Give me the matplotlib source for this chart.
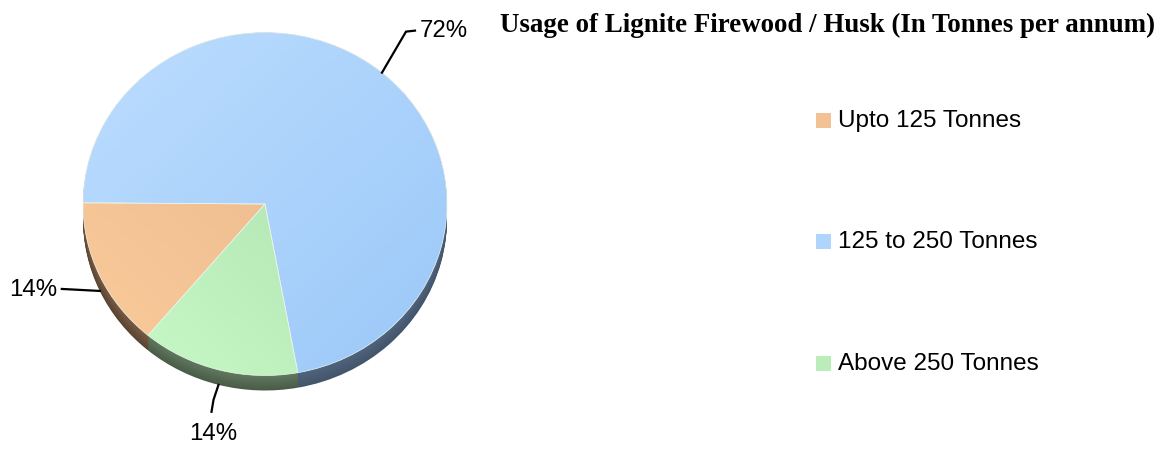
import numpy as np
import matplotlib.pyplot as plt
from matplotlib.colors import to_rgb
from matplotlib.patches import Rectangle
from matplotlib.lines import Line2D

plt.rcParams['font.family'] = ['Liberation Sans', 'DejaVu Sans']

categories = ["Upto 125 Tonnes", "125 to 250 Tonnes", "Above 250 Tonnes"]
shares = [14, 72, 14]
title = "Usage of Lignite Firewood / Husk (In Tonnes per annum)"

# slice colours: light / dark end of the top gradient, side shading
top_light = ["#FDCB9B", "#BCDDFF", "#CAFCCA"]
top_dark = ["#E1B48A", "#9BC8F8", "#A5D6A5"]
grad_dir = [(1, 1), (1, -1), (1, 1)]
side_top = ["#7A5D44", "#50647D", "#627A60"]
side_bot = ["#5A4332", "#43556B", "#4A5C47"]

W, H = 1163, 450
cx, cy, rx, ry, depth = 265, 204, 182, 171.5, 15
start = 230


def mix(c0, c1, t):
    a, b = np.array(to_rgb(c0)), np.array(to_rgb(c1))
    return tuple(a * (1 - t) + b * t)


def fig_xy(x, y):
    return x / W, 1 - y / H


fig = plt.figure(figsize=(W / 100, H / 100), dpi=100)
ax = fig.add_axes([0, 0, 1, 1])

# side of the pie: stacked copies going up from the bottom
n = 18
for k in range(n):
    f = k / (n - 1)
    off = -depth / ry * (1 - f)
    cols = [mix(side_bot[i], side_top[i], f) for i in range(3)]
    ax.pie(shares, startangle=start, counterclock=False, colors=cols,
           center=(0, off), wedgeprops=dict(linewidth=0, zorder=0.1))

# top surface
wedges, _ = ax.pie(shares, startangle=start, counterclock=False,
                   colors=top_light,
                   wedgeprops=dict(linewidth=0.5, edgecolor="#EEF6EE", zorder=2))

gx, gy = np.meshgrid(np.linspace(-1, 1, 300), np.linspace(-1, 1, 300))
for i, w in enumerate(wedges):
    dx, dy = grad_dir[i]
    t = (gx * dx + gy * dy)
    t = (t - t.min()) / (t.max() - t.min())
    c0, c1 = np.array(to_rgb(top_light[i])), np.array(to_rgb(top_dark[i]))
    img = c0[None, None, :] * (1 - t[..., None]) + c1[None, None, :] * t[..., None]
    im = ax.imshow(img, extent=(-1, 1, -1, 1), origin="lower", aspect="auto", zorder=1)
    im.set_clip_path(w)
    w.set_facecolor("none")

ax.set_aspect("auto")
ax.set_xlim((0 - cx) / rx, (W - cx) / rx)
ax.set_ylim((cy - H) / ry, cy / ry)
ax.axis("off")

# percentage labels with leader lines
leaders = [
    [(0, 0), (-38, -2)],
    [(0, 0), (24, -41), (33, -42)],
    [(0, 0), (-5, 15), (-7, 27)],
]
text_off = [(-43, -1, "right", "center"), (38, -42, "left", "center"),
            (-5, 49, "center", "center")]
for i, w in enumerate(wedges):
    mid = np.deg2rad((w.theta1 + w.theta2) / 2)
    X, Y = np.cos(mid), np.sin(mid)
    if Y < 0:
        Y -= depth / ry
    ax_px, ay_px = cx + rx * X, cy - ry * Y
    pts = [fig_xy(ax_px + a, ay_px + b) for a, b in leaders[i]]
    fig.add_artist(Line2D([p[0] for p in pts], [p[1] for p in pts],
                          color="black", lw=1.6, transform=fig.transFigure))
    ox, oy, ha, va = text_off[i]
    tx, ty = fig_xy(ax_px + ox, ay_px + oy)
    fig.text(tx, ty, f"{shares[i]}%", ha=ha, va=va, fontsize=17.3)

# title
tx, ty = fig_xy(500, 25)
fig.text(tx, ty, title, ha="left", va="center", fontsize=19.4,
         fontweight="bold", family="Liberation Serif")

# legend
for i, lab in enumerate(categories):
    y = 120.5 + 121.5 * i
    x0, y0 = fig_xy(816, y + 7.5)
    fig.add_artist(Rectangle((x0, y0), 15 / W, 15 / H, transform=fig.transFigure,
                             facecolor=mix(top_light[i], top_dark[i], 0.4),
                             edgecolor="none"))
    lx, ly = fig_xy(838, y)
    fig.text(lx, ly, lab, ha="left", va="center", fontsize=17.5)

fig.savefig("out.png", dpi=100)
